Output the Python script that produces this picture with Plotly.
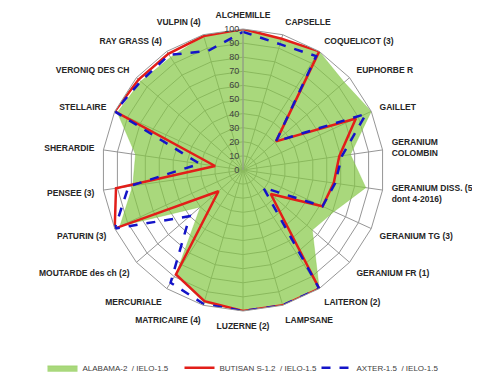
import plotly.graph_objects as go

categories = ["ALCHEMILLE", "CAPSELLE", "COQUELICOT (3)", "EUPHORBE R", "GAILLET",
              "GERANIUM<br>COLOMBIN", "GERANIUM DISS. (5<br>dont 4-2016)", "GERANIUM TG (3)",
              "GERANIUM FR (1)", "LAITERON (2)", "LAMPSANE", "LUZERNE (2)", "MATRICAIRE (4)",
              "MERCURIALE", "MOUTARDE des ch (2)", "PATURIN (3)", "PENSEE (3)", "SHERARDIE",
              "STELLAIRE", "VERONIQ DES CH", "RAY GRASS (4)", "VULPIN (4)"]

alabama = [100, 97, 100, 95, 100, 77, 88, 71, 65, 100, 100, 100, 98, 88, 40, 96, 79, 77, 98, 96, 95, 99]
butisan = [100, 97, 100, 31, 88, 69, 65, 62, 26, 100, 100, 100, 97, 88, 23, 100, 91, 20, 100, 98, 98, 99]
axter = [98, 93, 96, 31, 96, 71, 66, 62, 19, 100, 100, 100, 99, 95, 50, 100, 82, 31, 100, 96, 97, 88]

series_names = ["ALABAMA-2  / IELO-1.5", "BUTISAN S-1.2  / IELO-1.5", "AXTER-1.5  / IELO-1.5"]
radial_ticks = list(range(0, 101, 10))

def closed(v):
    return list(v) + [v[0]]

theta = closed(categories)

fig = go.Figure()
fig.add_trace(go.Scatterpolar(
    r=closed(alabama), theta=theta, name=series_names[0], mode="lines",
    fill="toself", fillcolor="rgba(132,199,68,0.7)", line=dict(color="rgba(132,199,68,0.7)", width=0.5)))
fig.add_trace(go.Scatterpolar(
    r=closed(butisan), theta=theta, name=series_names[1], mode="lines",
    line=dict(color="rgb(226,30,25)", width=2.5)))
fig.add_trace(go.Scatterpolar(
    r=closed(axter), theta=theta, name=series_names[2], mode="lines",
    line=dict(color="rgb(20,20,200)", width=2.5, dash="dash")))

grid = "rgb(150,150,150)"
cx, cy, R = 235, 220, 141
fig.update_layout(
    width=480, height=382,
    margin=dict(l=0, r=0, t=0, b=0),
    paper_bgcolor="white",
    font=dict(family="Liberation Sans, Arial, sans-serif", size=9, color="#404040"),
    polar=dict(
        domain=dict(x=[(cx - R) / 480, (cx + R) / 480],
                    y=[(cy - R) / 382, (cy + R) / 382]),
        bgcolor="rgba(0,0,0,0)",
        gridshape="linear",
        angularaxis=dict(direction="clockwise", rotation=90,
                         gridcolor=grid, gridwidth=1, linecolor=grid, linewidth=1,
                         showline=True, ticks="outside", ticklen=7, tickcolor="rgba(0,0,0,0)",
                         tickfont=dict(size=8.5, weight="bold", color="#262626")),
        radialaxis=dict(range=[0, 100], tickvals=radial_ticks, angle=90, tickangle=90,
                        side="counterclockwise", gridcolor=grid, gridwidth=1,
                        showline=True, linecolor=grid, ticks="",
                        tickfont=dict(size=9, color="#404040"), layer="above traces"),
    ),
    legend=dict(orientation="h", x=0.5, xanchor="center", y=0.02, yanchor="bottom",
                font=dict(size=8, color="#404040"), itemwidth=30,
                entrywidth=92, entrywidthmode="pixels"),
)
fig.write_html("out.html")
